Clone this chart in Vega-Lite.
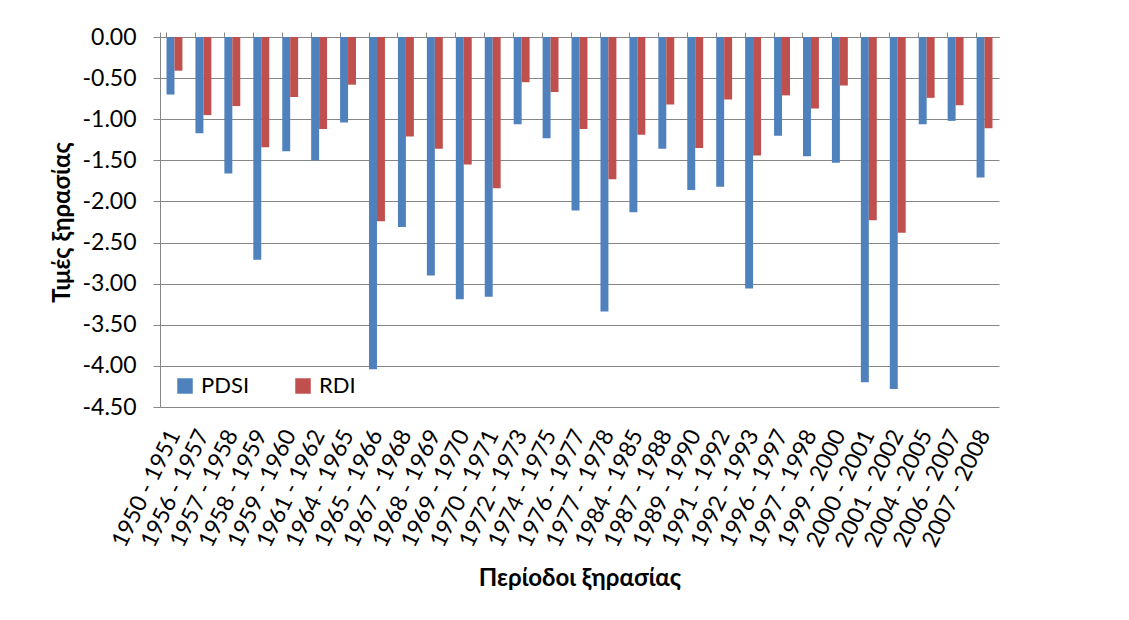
{
  "$schema": "https://vega.github.io/schema/vega-lite/v6.json",
  "autosize": {"type": "none"},
  "width": 839,
  "height": 370,
  "padding": {"left": 160, "top": 37, "right": 130, "bottom": 213},
  "background": "white",
  "config": {
    "view": {"stroke": null},
    "font": "Lato",
    "axis": {"labelColor": "black", "titleColor": "black", "labelFont": "Lato", "titleFont": "Lato"},
    "legend": {"labelFont": "Lato", "labelColor": "black"}
  },
  "data": {
    "values": [
      {"period": "1950 - 1951", "index": "PDSI", "value": -0.70}, {"period": "1950 - 1951", "index": "RDI", "value": -0.41},
      {"period": "1956 - 1957", "index": "PDSI", "value": -1.17}, {"period": "1956 - 1957", "index": "RDI", "value": -0.95},
      {"period": "1957 - 1958", "index": "PDSI", "value": -1.66}, {"period": "1957 - 1958", "index": "RDI", "value": -0.84},
      {"period": "1958 - 1959", "index": "PDSI", "value": -2.71}, {"period": "1958 - 1959", "index": "RDI", "value": -1.34},
      {"period": "1959 - 1960", "index": "PDSI", "value": -1.39}, {"period": "1959 - 1960", "index": "RDI", "value": -0.73},
      {"period": "1961 - 1962", "index": "PDSI", "value": -1.50}, {"period": "1961 - 1962", "index": "RDI", "value": -1.12},
      {"period": "1964 - 1965", "index": "PDSI", "value": -1.04}, {"period": "1964 - 1965", "index": "RDI", "value": -0.58},
      {"period": "1965 - 1966", "index": "PDSI", "value": -4.04}, {"period": "1965 - 1966", "index": "RDI", "value": -2.24},
      {"period": "1967 - 1968", "index": "PDSI", "value": -2.31}, {"period": "1967 - 1968", "index": "RDI", "value": -1.21},
      {"period": "1968 - 1969", "index": "PDSI", "value": -2.90}, {"period": "1968 - 1969", "index": "RDI", "value": -1.36},
      {"period": "1969 - 1970", "index": "PDSI", "value": -3.19}, {"period": "1969 - 1970", "index": "RDI", "value": -1.55},
      {"period": "1970 - 1971", "index": "PDSI", "value": -3.16}, {"period": "1970 - 1971", "index": "RDI", "value": -1.84},
      {"period": "1972 - 1973", "index": "PDSI", "value": -1.06}, {"period": "1972 - 1973", "index": "RDI", "value": -0.55},
      {"period": "1974 - 1975", "index": "PDSI", "value": -1.23}, {"period": "1974 - 1975", "index": "RDI", "value": -0.67},
      {"period": "1976 - 1977", "index": "PDSI", "value": -2.11}, {"period": "1976 - 1977", "index": "RDI", "value": -1.12},
      {"period": "1977 - 1978", "index": "PDSI", "value": -3.34}, {"period": "1977 - 1978", "index": "RDI", "value": -1.73},
      {"period": "1984 - 1985", "index": "PDSI", "value": -2.13}, {"period": "1984 - 1985", "index": "RDI", "value": -1.19},
      {"period": "1987 - 1988", "index": "PDSI", "value": -1.36}, {"period": "1987 - 1988", "index": "RDI", "value": -0.82},
      {"period": "1989 - 1990", "index": "PDSI", "value": -1.86}, {"period": "1989 - 1990", "index": "RDI", "value": -1.35},
      {"period": "1991 - 1992", "index": "PDSI", "value": -1.82}, {"period": "1991 - 1992", "index": "RDI", "value": -0.76},
      {"period": "1992 - 1993", "index": "PDSI", "value": -3.06}, {"period": "1992 - 1993", "index": "RDI", "value": -1.44},
      {"period": "1996 - 1997", "index": "PDSI", "value": -1.20}, {"period": "1996 - 1997", "index": "RDI", "value": -0.71},
      {"period": "1997 - 1998", "index": "PDSI", "value": -1.45}, {"period": "1997 - 1998", "index": "RDI", "value": -0.87},
      {"period": "1999 - 2000", "index": "PDSI", "value": -1.53}, {"period": "1999 - 2000", "index": "RDI", "value": -0.59},
      {"period": "2000 - 2001", "index": "PDSI", "value": -4.20}, {"period": "2000 - 2001", "index": "RDI", "value": -2.23},
      {"period": "2001 - 2002", "index": "PDSI", "value": -4.28}, {"period": "2001 - 2002", "index": "RDI", "value": -2.38},
      {"period": "2004 - 2005", "index": "PDSI", "value": -1.06}, {"period": "2004 - 2005", "index": "RDI", "value": -0.74},
      {"period": "2006 - 2007", "index": "PDSI", "value": -1.02}, {"period": "2006 - 2007", "index": "RDI", "value": -0.83},
      {"period": "2007 - 2008", "index": "PDSI", "value": -1.71}, {"period": "2007 - 2008", "index": "RDI", "value": -1.11}
    ]
  },
  "layer": [
    {
      "mark": {"type": "bar"},
      "encoding": {
        "x": {
          "field": "period", "type": "nominal", "sort": null,
          "scale": {"paddingInner": 0.45, "paddingOuter": 0.225},
          "axis": {
            "orient": "bottom", "labelAngle": -64, "labelFontSize": 23, "labelPadding": 24,
            "domain": false, "ticks": false, "grid": false,
            "title": "Περίοδοι ξηρασίας", "titleFontSize": 24, "titleFontWeight": "bold", "titlePadding": 16
          }
        },
        "xOffset": {"field": "index", "type": "nominal", "scale": {"paddingInner": 0, "paddingOuter": 0}},
        "y": {
          "field": "value", "type": "quantitative",
          "scale": {"domain": [-4.5, 0], "nice": false, "zero": false},
          "axis": {
            "values": [0, -0.5, -1, -1.5, -2, -2.5, -3, -3.5, -4, -4.5],
            "labelExpr": "replace(format(datum.value, '.2f'), '\u2212', '-')",
            "labelFontSize": 23, "labelPadding": 17,
            "grid": true, "gridColor": "#868686", "gridOpacity": 1, "gridWidth": 1,
            "domainColor": "#868686", "domainWidth": 1,
            "tickColor": "#868686", "tickSize": 7,
            "title": "Τιμές ξηρασίας", "titleFontSize": 24, "titleFontWeight": "bold", "titlePadding": 8
          }
        },
        "color": {
          "field": "index", "type": "nominal",
          "scale": {"domain": ["PDSI", "RDI"], "range": ["#4F81BD", "#C0504D"]},
          "legend": {
            "title": null, "orient": "none", "direction": "horizontal",
            "legendX": 14, "legendY": 338,
            "symbolType": "square", "symbolSize": 240, "symbolStrokeWidth": 0, "symbolOpacity": 1,
            "labelFontSize": 22, "labelOffset": 5, "columnPadding": 42
          }
        }
      }
    },
    {
      "mark": {"type": "bar", "opacity": 0},
      "encoding": {
        "x": {
          "field": "period", "type": "nominal", "sort": null,
          "axis": {
            "orient": "top", "labels": false, "title": null, "grid": false,
            "domain": true, "domainColor": "#868686", "domainWidth": 1,
            "ticks": true, "tickColor": "#868686", "tickSize": 5, "tickWidth": 1,
            "bandPosition": 0, "tickExtra": true
          }
        },
        "y": {"field": "value", "type": "quantitative"}
      }
    }
  ],
  "resolve": {"axis": {"x": "independent"}}
}
